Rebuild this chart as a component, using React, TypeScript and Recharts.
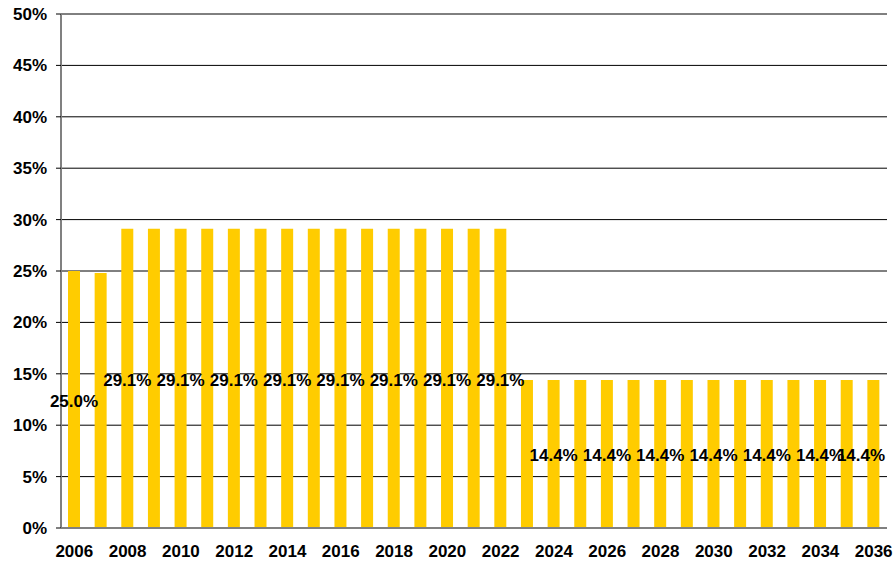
import React from "react";
import {
  BarChart,
  Bar,
  XAxis,
  YAxis,
  CartesianGrid,
  LabelList,
} from "recharts";

const years = [
  "2006", "2007", "2008", "2009", "2010", "2011", "2012", "2013", "2014", "2015",
  "2016", "2017", "2018", "2019", "2020", "2021", "2022", "2023", "2024", "2025",
  "2026", "2027", "2028", "2029", "2030", "2031", "2032", "2033", "2034", "2035",
  "2036",
];

// percent values per year
const rates = [
  25.0, 24.8, 29.1, 29.1, 29.1, 29.1, 29.1, 29.1, 29.1, 29.1,
  29.1, 29.1, 29.1, 29.1, 29.1, 29.1, 29.1, 14.4, 14.4, 14.4,
  14.4, 14.4, 14.4, 14.4, 14.4, 14.4, 14.4, 14.4, 14.4, 14.4,
  14.4,
];

// value labels are only printed on even years
const showLabel = years.map((y) => Number(y) % 2 === 0);

const yTicks = [0, 5, 10, 15, 20, 25, 30, 35, 40, 45, 50];

const data = years.map((year, i) => ({
  year,
  rate: rates[i],
  show: showLabel[i],
}));

const FONT = "'Liberation Sans', Arial, sans-serif";
const CHART_W = 894;

const MidLabel = (props: any) => {
  const { x, y, width, height, value, index } = props;
  if (!data[index] || !data[index].show) return null;
  // keep the label inside the chart (last one gets pushed left)
  const cx = Math.min(x + width / 2, CHART_W - 9 - 24);
  return (
    <text
      x={cx}
      y={y + height / 2 + 2}
      textAnchor="middle"
      dominantBaseline="central"
      fontFamily={FONT}
      fontWeight="bold"
      fontSize={17}
      fill="#000"
    >
      {`${Number(value).toFixed(1)}%`}
    </text>
  );
};

const App: React.FC = () => {
  return (
    <div style={{ position: "absolute", left: 0, top: 0, background: "#fff" }}>
      <BarChart
        width={CHART_W}
        height={562}
        data={data}
        margin={{ top: 14, right: 7, left: 0, bottom: 0 }}
        barSize={12}
      >
        <CartesianGrid horizontal vertical={false} stroke="#000" strokeWidth={1} />
        <XAxis
          dataKey="year"
          interval={1}
          height={34}
          tickSize={0}
          tickMargin={17}
          axisLine={{ stroke: "#808080", strokeWidth: 2 }}
          tick={{ fill: "#000", fontSize: 17, fontWeight: "bold", fontFamily: FONT }}
        />
        <YAxis
          width={61}
          domain={[0, 50]}
          ticks={yTicks}
          interval={0}
          tickFormatter={(v: number) => `${v}%`}
          tickSize={5}
          tickMargin={9}
          tickLine={{ stroke: "#000" }}
          axisLine={{ stroke: "#808080", strokeWidth: 2 }}
          tick={{ fill: "#000", fontSize: 17, fontWeight: "bold", fontFamily: FONT }}
        />
        <Bar dataKey="rate" fill="#FFCC00" isAnimationActive={false}>
          <LabelList dataKey="rate" content={<MidLabel />} />
        </Bar>
      </BarChart>
    </div>
  );
};

export default App;
